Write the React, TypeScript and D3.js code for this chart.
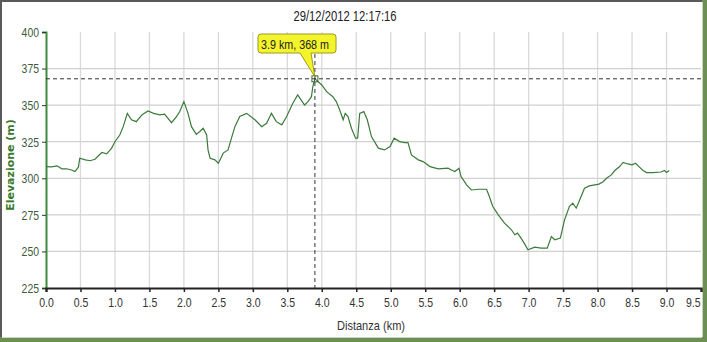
import React, { useEffect, useRef } from "react";
import * as d3 from "d3";

// elevation profile
const distanceKm = [
  0.0, 0.08, 0.16, 0.23, 0.3, 0.37, 0.42, 0.47, 0.49, 0.57, 0.64, 0.71, 0.81, 0.88, 0.95, 1.0, 1.07, 1.12,
  1.18, 1.24, 1.31, 1.39, 1.48, 1.56, 1.65, 1.72, 1.82, 1.89, 1.94, 2.0, 2.06, 2.11, 2.18, 2.23, 2.28, 2.33,
  2.35, 2.38, 2.45, 2.5, 2.57, 2.64, 2.69, 2.74, 2.81, 2.91, 3.03, 3.13, 3.2, 3.27, 3.34, 3.42, 3.49, 3.58,
  3.65, 3.7, 3.75, 3.8, 3.85, 3.87, 3.9, 4.0, 4.07, 4.16, 4.21, 4.26, 4.31, 4.34, 4.38, 4.43, 4.49, 4.52,
  4.55, 4.61, 4.66, 4.72, 4.82, 4.91, 4.99, 5.05, 5.13, 5.2, 5.25, 5.3, 5.4, 5.47, 5.57, 5.69, 5.83, 5.88,
  5.93, 5.99, 6.02, 6.1, 6.17, 6.27, 6.39, 6.43, 6.48, 6.56, 6.65, 6.75, 6.8, 6.84, 6.89, 6.95, 6.99, 7.09,
  7.18, 7.27, 7.33, 7.38, 7.46, 7.52, 7.59, 7.64, 7.69, 7.74, 7.81, 7.88, 7.96, 8.02, 8.08, 8.13, 8.2, 8.25,
  8.32, 8.37, 8.44, 8.5, 8.55, 8.6, 8.66, 8.71, 8.8, 8.92, 8.97, 9.0, 9.04,
];
const elevationM = [
  308, 307.8, 308.5, 306.5, 306.5, 305.7, 304.6, 307.6, 313.7, 312.6, 312, 313, 317.6, 316.7, 320.5, 325, 329.6, 335.3,
  344.4, 340, 338.7, 343.3, 346, 344.4, 343.3, 343.8, 338, 342, 345.6, 352.4, 344.4, 335.3, 330, 332, 334.2, 329.6,
  319.4, 313.7, 312.6, 310.3, 317.2, 319.4, 327.4, 335.3, 342.2, 344.4, 340, 335.3, 337.6, 344.4, 338.7, 336.5, 342.2, 351.3,
  357, 353.6, 350.1, 352.4, 355.8, 362.6, 368, 363.8, 359.2, 355.8, 352.4, 346.7, 340, 344.4, 342.2, 334.2, 327.4, 327.4,
  344.4, 345.6, 340, 328.5, 320.6, 319.4, 321.7, 327.4, 325.1, 324.4, 324.4, 316, 312.6, 311.4, 308, 306.5, 306.9, 305.7,
  304.6, 306.9, 301.2, 295.5, 292, 292.5, 292.5, 287.5, 280.7, 275, 269.3, 264.8, 261.4, 262.5, 259.1, 254.5, 251.1, 252.9,
  252.2, 252.2, 260.2, 258, 259.1, 271.4, 280.7, 283, 279.6, 285.2, 293.2, 294.8, 295.5, 296, 297.7, 300, 302.3, 305.3,
  308, 310.8, 309.8, 309.2, 310.3, 308, 305.3, 303.9, 303.9, 304.3, 305.3, 304, 305.3,
];
const xTicks = [0, 0.5, 1, 1.5, 2, 2.5, 3, 3.5, 4, 4.5, 5, 5.5, 6, 6.5, 7, 7.5, 8, 8.5, 9, 9.5];
const yTicks = [225, 250, 275, 300, 325, 350, 375, 400];
const cursorKm = 3.9;
const cursorElev = 368;
const title = "29/12/2012 12:17:16";

const W = 707;
const H = 342;
const font = "'Liberation Sans', Arial, sans-serif";

// squeeze labels to look like the narrow UI font of the original
const narrowLen = (s: string) =>
  s.split("").reduce((a, c) => a + (c === "." ? 3 : 5.8), 0);

const App = () => {
  const ref = useRef<SVGSVGElement>(null);

  useEffect(() => {
    const svg = d3.select(ref.current);
    svg.selectAll("*").remove();

    const x = d3.scaleLinear().domain([0, 9.5]).range([46, 701]);
    const y = d3.scaleLinear().domain([225, 400]).range([288, 32]);

    // frame
    svg.append("rect").attr("width", W).attr("height", H).attr("fill", "#fff");
    svg.append("rect").attr("x", 0).attr("y", 0).attr("width", W).attr("height", 2).attr("fill", "#5a5a5a");
    svg.append("rect").attr("x", 0).attr("y", 0).attr("width", 2).attr("height", H).attr("fill", "#5a5a5a");
    svg.append("rect").attr("x", 702).attr("y", 0).attr("width", 5).attr("height", H).attr("fill", "#6b8f55");
    svg.append("rect").attr("x", 0).attr("y", 337).attr("width", W).attr("height", 5).attr("fill", "#6b8f55");
    svg.append("rect").attr("x", 702).attr("y", 2).attr("width", 1).attr("height", 335).attr("fill", "#c9d6bf");
    svg.append("rect").attr("x", 2).attr("y", 337).attr("width", 700).attr("height", 1).attr("fill", "#c9d6bf");

    // grid
    svg
      .append("g")
      .selectAll("line")
      .data(xTicks.slice(1, -1))
      .join("line")
      .attr("x1", (d) => x(d))
      .attr("x2", (d) => x(d))
      .attr("y1", y(400))
      .attr("y2", y(225))
      .attr("stroke", "#d9d9d9")
      .attr("stroke-width", 1.3);
    svg
      .append("g")
      .selectAll("line")
      .data(yTicks.slice(1, -1))
      .join("line")
      .attr("x1", x(0))
      .attr("x2", x(9.5))
      .attr("y1", (d) => y(d))
      .attr("y2", (d) => y(d))
      .attr("stroke", "#d0d0d0")
      .attr("stroke-width", 1.3);

    // axes
    const yAxis = svg
      .append("g")
      .attr("transform", `translate(${x(0)},0)`)
      .call(d3.axisLeft(y).tickValues(yTicks).tickSize(4).tickPadding(3));
    yAxis.select(".domain").attr("stroke", "#3f8a3f").attr("stroke-width", 2);
    yAxis.selectAll(".tick line").attr("stroke", "#333");
    yAxis
      .selectAll<SVGTextElement, number>("text")
      .attr("font-family", font)
      .attr("font-size", 13.5)
      .attr("textLength", (d) => narrowLen(String(d)))
      .attr("lengthAdjust", "spacingAndGlyphs")
      .attr("fill", "#3d5a3d");

    const fmt = d3.format(".1f");
    const xAxis = svg
      .append("g")
      .attr("transform", `translate(0,${y(225)})`)
      .call(
        d3
          .axisBottom(x)
          .tickValues(xTicks)
          .tickSize(4)
          .tickPadding(5)
          .tickFormat((d) => fmt(d as number))
      );
    xAxis.select(".domain").attr("stroke", "#222").attr("stroke-width", 2.2);
    xAxis.selectAll(".tick line").attr("stroke", "#222").attr("stroke-width", 1.5);
    xAxis
      .selectAll<SVGTextElement, number>("text")
      .attr("font-family", font)
      .attr("font-size", 13.5)
      .attr("textLength", (d) => narrowLen(fmt(d)))
      .attr("lengthAdjust", "spacingAndGlyphs")
      .attr("fill", "#333");
    // last label pulled inside the frame
    xAxis
      .selectAll<SVGTextElement, number>("text")
      .filter((d) => d === 9.5)
      .attr("text-anchor", "end")
      .attr("x", -1);

    // profile
    const pts = distanceKm.map((d, i) => [d, elevationM[i]] as [number, number]);
    svg
      .append("path")
      .datum(pts)
      .attr("fill", "none")
      .attr("stroke", "#3c7a3c")
      .attr("stroke-width", 1.2)
      .attr("d", d3.line<[number, number]>().x((d) => x(d[0])).y((d) => y(d[1])));

    // crosshair
    svg
      .append("line")
      .attr("x1", x(0))
      .attr("x2", x(9.5))
      .attr("y1", y(cursorElev))
      .attr("y2", y(cursorElev))
      .attr("stroke", "#333")
      .attr("stroke-dasharray", "4,3");
    svg
      .append("line")
      .attr("x1", x(cursorKm))
      .attr("x2", x(cursorKm))
      .attr("y1", 54)
      .attr("y2", y(225))
      .attr("stroke", "#333")
      .attr("stroke-dasharray", "4,3");
    svg
      .append("rect")
      .attr("x", x(cursorKm) - 3)
      .attr("y", y(cursorElev) - 3)
      .attr("width", 6)
      .attr("height", 6)
      .attr("fill", "none")
      .attr("stroke", "#3c6a3c");

    // tooltip
    const px = x(cursorKm);
    const py = y(cursorElev);
    svg
      .append("path")
      .attr(
        "d",
        `M261,34 H333 Q336,34 336,37 V50 Q336,53 333,53 H311 L${px},${py - 2} L300,53 H261 Q258,53 258,50 V37 Q258,34 261,34 Z`
      )
      .attr("fill", "#f4f42c")
      .attr("stroke", "#9c9a20")
      .attr("stroke-width", 1);
    svg
      .append("text")
      .text(`${cursorKm} km, ${cursorElev} m`)
      .attr("x", 295)
      .attr("y", 48.5)
      .attr("text-anchor", "middle")
      .attr("font-family", font)
      .attr("font-size", 13.5)
      .attr("textLength", 68)
      .attr("lengthAdjust", "spacingAndGlyphs")
      .attr("fill", "#222");

    // labels
    svg
      .append("text")
      .text(title)
      .attr("x", 345)
      .attr("y", 21)
      .attr("text-anchor", "middle")
      .attr("font-family", font)
      .attr("font-size", 14)
      .attr("textLength", 103)
      .attr("lengthAdjust", "spacingAndGlyphs")
      .attr("fill", "#222");
    svg
      .append("text")
      .text("Distanza (km)")
      .attr("x", 371)
      .attr("y", 330)
      .attr("text-anchor", "middle")
      .attr("font-family", font)
      .attr("font-size", 13.5)
      .attr("textLength", 68)
      .attr("lengthAdjust", "spacingAndGlyphs")
      .attr("fill", "#333");
    svg
      .append("text")
      .text("Elevazione (m)")
      .attr("transform", "translate(14,165) rotate(-90)")
      .attr("text-anchor", "middle")
      .attr("font-family", "'DejaVu Sans', sans-serif")
      .attr("font-weight", "bold")
      .attr("font-size", 11)
      .attr("fill", "#3a7a2a");
  }, []);

  return (
    <svg
      ref={ref}
      width={W}
      height={H}
      style={{ position: "absolute", left: 0, top: 0, display: "block" }}
    ></svg>
  );
};

export default App;
